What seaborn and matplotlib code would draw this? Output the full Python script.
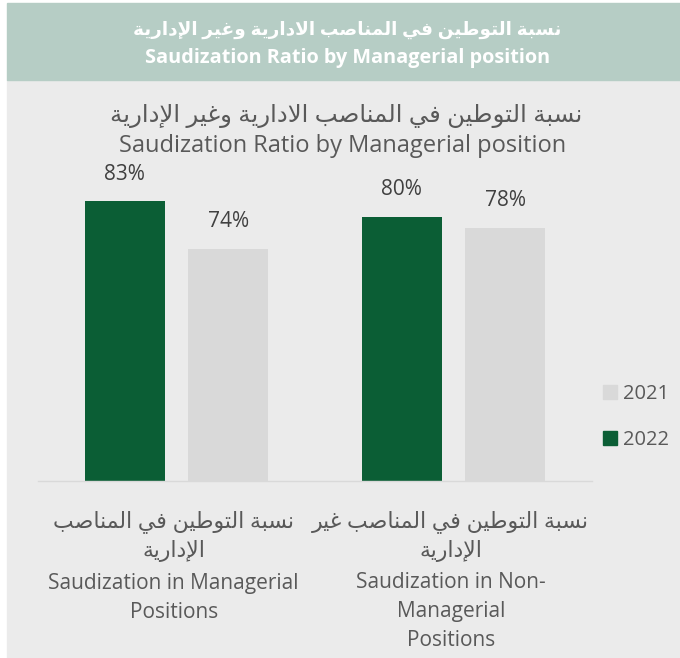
"""Saudization ratio by managerial position"""
import matplotlib

matplotlib.use("Agg")
import matplotlib.pyplot as plt
import pandas as pd
import seaborn as sns
from matplotlib.patches import Patch, Rectangle

# data
categories = ["Managerial", "Non-Managerial"]
years = ["2022", "2021"]
values_2022 = [83, 80]
values_2021 = [74, 78]

title_ar = "نسبة التوطين في المناصب الادارية وغير الإدارية"
title_en = "Saudization Ratio by Managerial position"
cat_labels_ar = [
    ["نسبة التوطين في المناصب", "الإدارية"],
    ["نسبة التوطين في المناصب غير", "الإدارية"],
]
cat_labels_en = [
    ["Saudization in Managerial", "Positions"],
    ["Saudization in Non-", "Managerial", "Positions"],
]

GREEN = "#0b5e35"
GRAY = "#d9d9d9"
HEADER = "#b6cdc5"
PANEL = "#ebebeb"
TEXT = "#595959"

# matplotlib does no arabic shaping, so pick presentation forms by hand
# (isolated, final, initial, medial)
FORMS = {
    "ا": ("\uFE8D", "\uFE8E", None, None),
    "إ": ("\uFE87", "\uFE88", None, None),
    "ب": ("\uFE8F", "\uFE90", "\uFE91", "\uFE92"),
    "ة": ("\uFE93", "\uFE94", None, None),
    "ت": ("\uFE95", "\uFE96", "\uFE97", "\uFE98"),
    "د": ("\uFEA9", "\uFEAA", None, None),
    "ر": ("\uFEAD", "\uFEAE", None, None),
    "س": ("\uFEB1", "\uFEB2", "\uFEB3", "\uFEB4"),
    "ص": ("\uFEB9", "\uFEBA", "\uFEBB", "\uFEBC"),
    "ط": ("\uFEC1", "\uFEC2", "\uFEC3", "\uFEC4"),
    "غ": ("\uFECD", "\uFECE", "\uFECF", "\uFED0"),
    "ف": ("\uFED1", "\uFED2", "\uFED3", "\uFED4"),
    "ل": ("\uFEDD", "\uFEDE", "\uFEDF", "\uFEE0"),
    "م": ("\uFEE1", "\uFEE2", "\uFEE3", "\uFEE4"),
    "ن": ("\uFEE5", "\uFEE6", "\uFEE7", "\uFEE8"),
    "و": ("\uFEED", "\uFEEE", None, None),
    "ي": ("\uFEF1", "\uFEF2", "\uFEF3", "\uFEF4"),
}
LAM_ALEF = {
    "ا": ("\uFEFB", "\uFEFC", None, None),
    "إ": ("\uFEF9", "\uFEFA", None, None),
}


def shape_word(word):
    units = []
    i = 0
    while i < len(word):
        if word[i] == "ل" and i + 1 < len(word) and word[i + 1] in LAM_ALEF:
            units.append(LAM_ALEF[word[i + 1]])
            i += 2
        else:
            units.append(FORMS[word[i]])
            i += 1
    out = []
    for k, f in enumerate(units):
        prev_join = k > 0 and units[k - 1][2] is not None
        next_join = f[2] is not None and k + 1 < len(units)
        if prev_join and next_join:
            out.append(f[3])
        elif prev_join:
            out.append(f[1])
        elif next_join:
            out.append(f[2])
        else:
            out.append(f[0])
    return "".join(out)


def ar(text):
    return " ".join(shape_word(w) for w in text.split(" "))[::-1]


sns.set_theme(style="white")
plt.rcParams["font.family"] = ["Open Sans", "DejaVu Sans"]

df = pd.DataFrame(
    {
        "Category": categories * 2,
        "Year": [years[0]] * 2 + [years[1]] * 2,
        "Value": values_2022 + values_2021,
    }
)

fig = plt.figure(figsize=(6.8, 6.58), dpi=100, facecolor="white")
W, H = 680, 658

# panel + header band
fig.patches.append(
    Rectangle((7 / W, 0), 1, (H - 80) / H, transform=fig.transFigure,
              color=PANEL, zorder=-2)
)
fig.patches.append(
    Rectangle((7 / W, (H - 80) / H), 1, 77 / H, transform=fig.transFigure,
              color=HEADER, zorder=-2)
)
fig.text(347 / W, (H - 30) / H, ar(title_ar), ha="center", va="center",
         color="white", fontsize=13.3, fontweight="bold")
fig.text(348 / W, (H - 58) / H, title_en, ha="center", va="center",
         color="white", fontsize=14.3, fontweight="bold")

fig.text(346 / W, (H - 116) / H, ar(title_ar), ha="center", va="center",
         color=TEXT, fontsize=17.6)
fig.text(343 / W, (H - 146) / H, title_en, ha="center", va="center",
         color=TEXT, fontsize=17)

ax = fig.add_axes([38 / W, 177 / H, 554 / W, 343 / H])
ax.set_facecolor("none")
sns.barplot(
    df, x="Category", y="Value", hue="Year", hue_order=years,
    palette=[GREEN, GRAY], width=0.75, gap=0.23, saturation=1,
    linewidth=0, legend=False, ax=ax,
)
ax.set_ylim(30, 95)
ax.set_xlim(-0.5, 1.5)

for container in ax.containers:
    ax.bar_label(container, fmt="{:.0f}%", padding=12, fontsize=15,
                 color="#404040")

# category labels, one line at a time (arabic lines need a larger size)
ax.set_xticks([])
for i, (a_lines, en_lines) in enumerate(zip(cat_labels_ar, cat_labels_en)):
    lines = [(ar(a), 15.8, 41 + 29 * k) for k, a in enumerate(a_lines)]
    lines += [(e, 15, 102 + 29 * k) for k, e in enumerate(en_lines)]
    for line, size, off in lines:
        ax.annotate(
            line, xy=(i, 0), xycoords=("data", "axes fraction"),
            xytext=(-2, -off * 0.72), textcoords="offset points",
            ha="center", va="center", fontsize=size, color=TEXT,
        )
ax.set_yticks([])
ax.set_xlabel("")
ax.set_ylabel("")
for side in ["top", "left", "right"]:
    ax.spines[side].set_visible(False)
ax.spines["bottom"].set_color(GRAY)
ax.spines["bottom"].set_linewidth(1)

handles = [Patch(color=GRAY, label="2021"), Patch(color=GREEN, label="2022")]
fig.legend(
    handles=handles, loc="upper left", bbox_to_anchor=(603 / W, (H - 384) / H),
    frameon=False, fontsize=14.5, handlelength=0.7, handleheight=0.7,
    handletextpad=0.3, labelspacing=1.3, borderpad=0, borderaxespad=0,
    labelcolor=TEXT,
)

fig.savefig("out.png", dpi=100, facecolor="white")
